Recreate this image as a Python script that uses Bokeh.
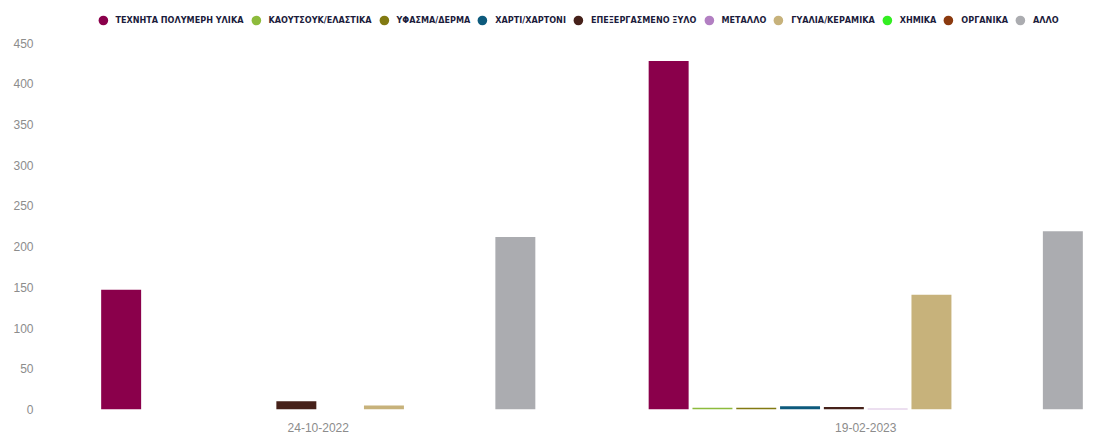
from bokeh.plotting import figure
from bokeh.models import Range1d, FixedTicker, Legend, LegendItem, ColumnDataSource
from bokeh.transform import dodge
from bokeh.embed import file_html
from bokeh.resources import INLINE

dates = ["24-10-2022", "19-02-2023"]
categories = ["ΤΕΧΝΗΤΑ ΠΟΛΥΜΕΡΗ ΥΛΙΚΑ", "ΚΑΟΥΤΣΟΥΚ/ΕΛΑΣΤΙΚΑ", "ΥΦΑΣΜΑ/ΔΕΡΜΑ",
              "ΧΑΡΤΙ/ΧΑΡΤΟΝΙ", "ΕΠΕΞΕΡΓΑΣΜΕΝΟ ΞΥΛΟ", "ΜΕΤΑΛΛΟ", "ΓΥΑΛΙΑ/ΚΕΡΑΜΙΚΑ",
              "ΧΗΜΙΚΑ", "ΟΡΓΑΝΙΚΑ", "ΑΛΛΟ"]
colors = ["#8a004b", "#8dbb3c", "#827a12", "#0d5a7c", "#46211a", "#b27fc2",
          "#c7b27b", "#33ee22", "#8b3a0f", "#abacb0"]
values_24_10_2022 = [147, 0, 0, 0, 10, 0, 5, 0, 0, 212]
values_19_02_2023 = [428, 2, 2, 4, 3, 1, 141, 0, 0, 219]
y_ticks = [0, 50, 100, 150, 200, 250, 300, 350, 400, 450]

group_centers = [0.5, 1.5]
n = len(categories)
step = 0.08
bar_w = 0.073

p = figure(width=1105, height=434, output_backend="svg", toolbar_location=None,
           x_range=Range1d(0, 1.9379), y_range=Range1d(0, 502.3),
           min_border_left=44, min_border_right=0, min_border_top=0, min_border_bottom=23)
p.outline_line_color = None
p.xgrid.visible = False
p.ygrid.visible = False

items = []
for i, cat in enumerate(categories):
    src = ColumnDataSource(dict(g=group_centers, top=[values_24_10_2022[i], values_19_02_2023[i]]))
    p.vbar(x=dodge("g", (i - (n - 1) / 2) * step), top="top", bottom=0, width=bar_w,
           source=src, fill_color=colors[i], line_color=None)
    dummy = p.scatter(x=[float("nan")], y=[float("nan")], marker="circle", size=10,
                      fill_color=colors[i], line_color=None)
    items.append(LegendItem(label=cat, renderers=[dummy]))

legend = Legend(items=items, orientation="horizontal", location="top_center",
                glyph_width=24, glyph_height=24, label_standoff=1, spacing=0,
                padding=0, margin=8, background_fill_alpha=0, border_line_color=None,
                label_text_font="'DejaVu Sans Condensed', 'Liberation Sans Narrow', Roboto",
                label_text_font_style="bold",
                label_text_font_size="9px", label_text_color="#1c1c3c",
                label_height=24)
p.add_layout(legend, "center")

p.yaxis.ticker = FixedTicker(ticks=y_ticks)
p.yaxis.axis_line_color = None
p.yaxis.major_tick_line_color = None
p.yaxis.minor_tick_line_color = None
p.yaxis.major_tick_out = 0
p.yaxis.major_tick_in = 0
p.yaxis.major_label_standoff = 11
p.yaxis.major_label_text_font = "Liberation Sans"
p.yaxis.major_label_text_font_size = "12px"
p.yaxis.major_label_text_color = "#8c8c8c"

p.xaxis.ticker = FixedTicker(ticks=group_centers)
p.xaxis.major_label_overrides = {group_centers[0]: dates[0], group_centers[1]: dates[1]}
p.xaxis.axis_line_color = None
p.xaxis.major_tick_line_color = None
p.xaxis.minor_tick_line_color = None
p.xaxis.major_tick_out = 0
p.xaxis.major_tick_in = 0
p.xaxis.major_label_standoff = 13
p.xaxis.major_label_text_font = "Liberation Sans"
p.xaxis.major_label_text_font_size = "12px"
p.xaxis.major_label_text_color = "#8c8c8c"

open("out.html", "w").write(file_html(p, INLINE))
